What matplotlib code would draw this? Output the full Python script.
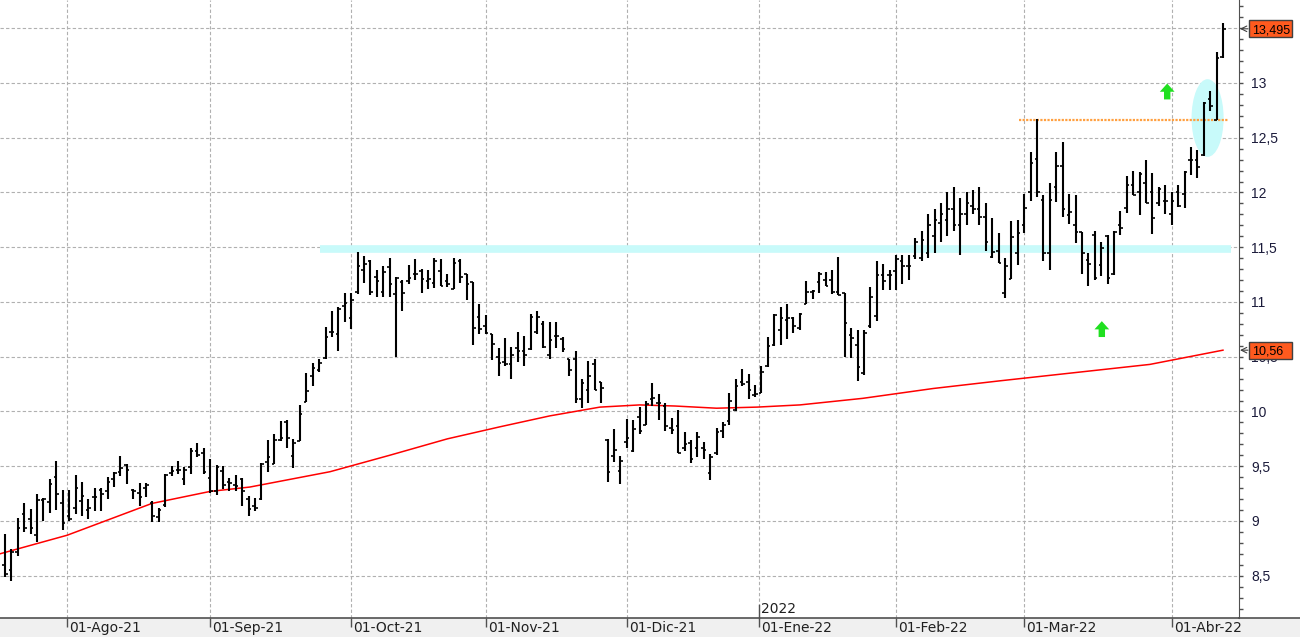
import numpy as np
import pandas as pd
import matplotlib
matplotlib.use('Agg')
import matplotlib.pyplot as plt
from matplotlib import transforms as mtrans
from matplotlib.patches import Ellipse, FancyArrow, Rectangle
from matplotlib.ticker import MultipleLocator, FuncFormatter

plt.rcParams['font.family'] = ['Liberation Sans', 'DejaVu Sans']

# daily bars, 19-Jul-21 .. 13-Abr-22
opens = [8.60, 8.55, 8.72, 9.06, 9.02, 8.87, 9.19, 9.17, 9.40, 9.16,
         9.05, 9.12, 9.18, 9.10, 9.22, 9.28, 9.27, 9.38, 9.45, 9.51,
         9.28, 9.26, 9.30, 9.16, 9.04, 9.15, 9.44, 9.47, 9.38, 9.49,
         9.64, 9.62, 9.39, 9.27, 9.46, 9.36, 9.33, 9.38, 9.20, 9.14,
         9.20, 9.54, 9.52, 9.74, 9.90, 9.59, 9.73, 10.09, 10.32, 10.38,
         10.49, 10.73, 10.71, 10.96, 10.85, 11.09, 11.29, 11.37, 11.23, 11.09,
         11.32, 11.07, 11.18, 11.19, 11.26, 11.28, 11.19, 11.17, 11.28, 11.19,
         11.12, 11.37, 11.26, 11.18, 10.86, 10.78, 10.71, 10.50, 10.45, 10.43,
         10.58, 10.55, 10.57, 10.73, 10.80, 10.52, 10.69, 10.66, 10.48, 10.48,
         10.11, 10.20, 10.43, 10.27, 9.74, 9.59, 9.46, 9.72, 9.64, 9.95,
         9.88, 10.11, 10.08, 10.05, 9.85, 9.87, 9.67, 9.71, 9.67, 9.67,
         9.44, 9.62, 9.82, 9.91, 10.01, 10.27, 10.27, 10.15, 10.17, 10.42,
         10.61, 10.74, 10.84, 10.85, 10.76, 10.98, 11.09, 11.18, 11.20, 11.20,
         11.09, 11.08, 10.70, 10.61, 10.35, 10.78, 10.87, 11.25, 11.25, 11.28,
         11.37, 11.33, 11.42, 11.40, 11.45, 11.60, 11.72, 11.75, 11.85, 11.70,
         11.80, 11.88, 11.85, 11.78, 11.41, 11.47, 11.08, 11.21, 11.45, 11.70,
         12.00, 12.31, 11.93, 11.45, 12.05, 12.24, 11.79, 11.70, 11.64, 11.38,
         11.61, 11.34, 11.60, 11.26, 11.70, 11.86, 12.07, 12.00, 12.09, 12.00,
         11.90, 11.92, 11.80, 12.00, 11.99, 12.30, 12.30, 12.34, 12.85, 12.66,
         13.24]
highs = [8.88, 8.74, 9.03, 9.16, 9.11, 9.25, 9.21, 9.38, 9.55, 9.28,
         9.28, 9.42, 9.36, 9.20, 9.30, 9.30, 9.40, 9.45, 9.59, 9.52,
         9.29, 9.35, 9.35, 9.18, 9.12, 9.43, 9.50, 9.55, 9.49, 9.67,
         9.71, 9.67, 9.57, 9.51, 9.50, 9.39, 9.42, 9.39, 9.23, 9.21,
         9.53, 9.74, 9.79, 9.91, 9.92, 9.75, 10.06, 10.35, 10.44, 10.48,
         10.77, 10.92, 10.95, 11.08, 11.08, 11.46, 11.42, 11.38, 11.29, 11.33,
         11.40, 11.23, 11.20, 11.34, 11.39, 11.30, 11.29, 11.40, 11.39, 11.26,
         11.40, 11.39, 11.26, 11.18, 10.98, 10.88, 10.71, 10.58, 10.67, 10.59,
         10.73, 10.69, 10.89, 10.92, 10.83, 10.82, 10.82, 10.68, 10.48, 10.55,
         10.30, 10.46, 10.48, 10.27, 9.75, 9.84, 9.59, 9.93, 9.92, 10.04,
         10.10, 10.26, 10.16, 10.08, 9.94, 10.01, 9.81, 9.74, 9.81, 9.72,
         9.61, 9.85, 9.90, 10.17, 10.30, 10.39, 10.34, 10.24, 10.42, 10.68,
         10.89, 10.95, 10.98, 10.86, 10.90, 11.19, 11.11, 11.27, 11.27, 11.29,
         11.41, 11.08, 10.76, 10.74, 10.74, 11.14, 11.37, 11.35, 11.29, 11.43,
         11.43, 11.43, 11.58, 11.65, 11.80, 11.85, 11.90, 12.00, 12.05, 11.95,
         12.00, 12.02, 12.05, 11.90, 11.77, 11.63, 11.40, 11.74, 11.75, 11.99,
         12.37, 12.67, 11.98, 12.09, 12.37, 12.46, 11.99, 11.98, 11.64, 11.45,
         11.65, 11.55, 11.61, 11.65, 11.83, 12.15, 12.20, 12.19, 12.30, 12.18,
         12.05, 12.07, 12.00, 12.07, 12.20, 12.42, 12.39, 12.83, 12.93, 13.28,
         13.55]
lows = [8.49, 8.45, 8.68, 8.90, 8.88, 8.81, 9.00, 9.07, 9.10, 8.92,
        9.00, 9.06, 9.05, 9.02, 9.09, 9.09, 9.20, 9.31, 9.41, 9.34,
        9.20, 9.14, 9.22, 8.99, 8.99, 9.13, 9.41, 9.43, 9.33, 9.43,
        9.58, 9.43, 9.26, 9.24, 9.29, 9.27, 9.27, 9.14, 9.05, 9.09,
        9.19, 9.45, 9.52, 9.73, 9.67, 9.48, 9.73, 10.09, 10.23, 10.36,
        10.48, 10.68, 10.55, 10.82, 10.75, 11.07, 11.17, 11.06, 11.05, 11.05,
        11.05, 10.50, 10.92, 11.16, 11.20, 11.08, 11.12, 11.13, 11.15, 11.14,
        11.12, 11.17, 11.02, 10.61, 10.71, 10.71, 10.47, 10.32, 10.42, 10.30,
        10.45, 10.42, 10.56, 10.71, 10.58, 10.48, 10.58, 10.54, 10.32, 10.08,
        10.03, 10.08, 10.20, 10.08, 9.36, 9.54, 9.34, 9.67, 9.63, 9.79,
        9.88, 10.05, 9.92, 9.82, 9.79, 9.62, 9.64, 9.53, 9.58, 9.57,
        9.37, 9.60, 9.76, 9.88, 10.00, 10.23, 10.11, 10.13, 10.17, 10.41,
        10.60, 10.61, 10.66, 10.72, 10.74, 10.98, 11.03, 11.08, 11.15, 11.07,
        11.06, 10.50, 10.49, 10.28, 10.33, 10.76, 10.83, 11.11, 11.11, 11.11,
        11.16, 11.20, 11.39, 11.37, 11.40, 11.45, 11.55, 11.60, 11.65, 11.43,
        11.70, 11.80, 11.70, 11.47, 11.40, 11.36, 11.04, 11.21, 11.34, 11.63,
        11.92, 11.96, 11.37, 11.29, 11.91, 11.78, 11.71, 11.54, 11.26, 11.15,
        11.20, 11.24, 11.16, 11.25, 11.61, 11.81, 11.98, 11.79, 11.90, 11.62,
        11.88, 11.80, 11.70, 11.87, 11.86, 12.16, 12.13, 12.33, 12.74, 12.66,
        13.23]
closes = [8.52, 8.72, 8.94, 8.94, 8.94, 9.19, 9.20, 9.34, 9.25, 8.98,
          9.02, 9.30, 9.23, 9.12, 9.22, 9.25, 9.36, 9.44, 9.48, 9.47,
          9.27, 9.22, 9.33, 9.05, 9.10, 9.42, 9.46, 9.47, 9.47, 9.64,
          9.60, 9.45, 9.27, 9.49, 9.33, 9.35, 9.32, 9.27, 9.11, 9.12,
          9.52, 9.58, 9.74, 9.76, 9.76, 9.71, 9.98, 10.19, 10.40, 10.44,
          10.68, 10.73, 10.94, 10.99, 11.02, 11.33, 11.35, 11.09, 11.19, 11.27,
          11.16, 11.22, 11.08, 11.22, 11.26, 11.21, 11.21, 11.37, 11.15, 11.16,
          11.36, 11.23, 11.16, 10.76, 10.75, 10.72, 10.62, 10.44, 10.43, 10.52,
          10.55, 10.52, 10.86, 10.86, 10.59, 10.65, 10.69, 10.57, 10.38, 10.11,
          10.26, 10.32, 10.20, 10.21, 9.45, 9.65, 9.55, 9.76, 9.84, 9.82,
          10.07, 10.12, 10.08, 9.87, 9.83, 9.62, 9.70, 9.57, 9.77, 9.65,
          9.58, 9.81, 9.88, 10.10, 10.23, 10.25, 10.20, 10.16, 10.36, 10.60,
          10.88, 10.85, 10.85, 10.78, 10.89, 11.09, 11.10, 11.26, 11.15, 11.09,
          11.06, 10.81, 10.67, 10.41, 10.72, 11.05, 11.25, 11.19, 11.25, 11.39,
          11.33, 11.33, 11.55, 11.57, 11.70, 11.75, 11.80, 11.85, 11.70, 11.80,
          11.90, 11.85, 11.78, 11.55, 11.46, 11.36, 11.33, 11.59, 11.63, 11.86,
          12.27, 12.00, 11.45, 11.93, 12.24, 11.85, 11.82, 11.64, 11.45, 11.35,
          11.22, 11.49, 11.22, 11.64, 11.68, 12.07, 11.98, 12.17, 11.90, 11.77,
          12.03, 11.92, 11.92, 11.88, 12.19, 12.30, 12.23, 12.82, 12.79, 13.23,
          13.495]

# 200-session moving average, read at a few bar positions
ma_idx = [-0.8, 9.7, 22.9, 32, 38.2, 50.7, 60, 69, 77.2, 85, 92.8, 99, 104.5,
          111, 117.3, 124, 133.8, 144.8, 155.2, 163, 170.8, 178.6, 190]
ma_val = [8.70, 8.87, 9.16, 9.27, 9.31, 9.45, 9.60, 9.75, 9.86, 9.96, 10.04,
          10.06, 10.05, 10.03, 10.04, 10.06, 10.12, 10.21, 10.28, 10.33, 10.38,
          10.43, 10.56]

month_starts = ['2021-08-01', '2021-09-01', '2021-10-01', '2021-11-01', '2021-12-01',
                '2022-01-01', '2022-02-01', '2022-03-01', '2022-04-01']
month_labels = ['01-Ago-21', '01-Sep-21', '01-Oct-21', '01-Nov-21', '01-Dic-21',
                '01-Ene-22', '01-Feb-22', '01-Mar-22', '01-Abr-22']

support = 11.48
resistance = 12.66
last_price = 13.495
last_ma = 10.56

dates = pd.bdate_range('2021-07-19', '2022-04-13')
dates = dates.drop(pd.to_datetime(['2021-12-24', '2021-12-31']))
idx = np.arange(len(closes))

tick_pos = []
for m in pd.to_datetime(month_starts):
    i = int(np.searchsorted(dates.values, np.datetime64(m)))
    tick_pos.append(i if dates[i] == m else i - 0.35)

fig = plt.figure(figsize=(13, 6.37), dpi=100)
fig.patches.append(Rectangle((0, 0), 1, 19/637, transform=fig.transFigure,
                             fc='#f0f0f0', ec='none', zorder=-1))
ax = fig.add_axes([0, 19/637, 1239/1300, 618/637])

# hand drawn marks
ax.plot([49.1, 191.2], [support, support], color='#c8fafa', lw=5.5,
        solid_capstyle='butt', zorder=1)
ax.add_patch(Ellipse((187.6, 12.68), 5.0, 0.71, fc='#c8fafa', ec='none', zorder=1))
ax.plot([158.2, 190.8], [resistance, resistance], color='#ffa040', lw=1.6,
        linestyle=(0, (1, 0.6)), zorder=2)

ax.plot(ma_idx, ma_val, color='#ff0000', lw=1.1, zorder=2.5)

ax.vlines(idx, lows, highs, color='black', lw=1.5, zorder=3)
ax.hlines(opens, idx - 0.4, idx, color='black', lw=1.2, zorder=3)
ax.hlines(closes, idx, idx + 0.4, color='black', lw=1.2, zorder=3)

for xc, yb in [(181.3, 12.85), (171.1, 10.68)]:
    ax.add_patch(FancyArrow(xc, yb, 0, 0.145, width=1.0, head_width=2.3,
                            head_length=0.075, length_includes_head=True,
                            fc='#20e020', ec='none', zorder=4))

ax.set_xlim(-0.78, 192.5)
ax.set_ylim(8.114, 13.758)

# axes look
for s in ['left', 'top']:
    ax.spines[s].set_visible(False)
ax.spines['right'].set_color('#505050')
ax.spines['bottom'].set_color('#505050')
ax.spines['bottom'].set_linewidth(1.2)
fig.add_artist(plt.Line2D([1239/1300, 1], [19/637, 19/637], color='#505050', lw=1.2))

ax.set_xticks(tick_pos)
ax.set_xticklabels([])
ax.tick_params(axis='x', direction='out', length=6.5, width=1, color='#505050')


def price_fmt(v, p):
    # the top level sits under the last price box
    if v > 13.4:
        return ''
    return ('%g' % v).replace('.', ',')


ax.yaxis.tick_right()
ax.set_yticks(np.arange(8.5, 13.51, 0.5))
ax.yaxis.set_minor_locator(MultipleLocator(0.1))
ax.yaxis.set_major_formatter(FuncFormatter(price_fmt))
ax.tick_params(axis='y', which='both', direction='out', length=3, width=1,
               color='#505050', labelcolor='#1a1a3a', labelsize=10, pad=6)

ax.grid(True, which='major', color='#b0b0b0', linestyle=(0, (3, 2)), lw=0.8)
ax.set_axisbelow(True)

bx = mtrans.blended_transform_factory(ax.transData, ax.transAxes)
lab_tr = mtrans.offset_copy(bx, fig=fig, x=2, y=-3, units='dots')
narrow = ['Liberation Sans Narrow', 'DejaVu Sans']
for p, lab in zip(tick_pos, month_labels):
    ax.text(p, 0, lab, transform=lab_tr, ha='left', va='top', fontsize=10,
            family=narrow, color='#202020', clip_on=False)

jan = tick_pos[5]
ax.plot([jan, jan], [0, 13/618], transform=bx, color='#505050', lw=1, clip_on=False)
ax.text(jan, 0, '2022', transform=mtrans.offset_copy(bx, fig=fig, x=2, y=2, units='dots'),
        ha='left', va='bottom', fontsize=10, family=narrow, color='#202020', clip_on=False)

# last value boxes on the price scale
by = mtrans.blended_transform_factory(fig.transFigure, ax.transData)
for v, txt in [(last_price, '13,495'), (last_ma, '10,56')]:
    fig.add_artist(Rectangle((1249/1300, v - 0.0775), 43/1300, 0.155, transform=by,
                             fc='#ff5a1e', ec='#404040', lw=1, zorder=10))
    fig.text(1252/1300, v, txt, transform=by, ha='left', va='center_baseline',
             fontsize=9, color='black', zorder=11)
    ax.annotate('', xy=(1240/1300, v), xytext=(1248/1300, v), xycoords=by, textcoords=by,
                arrowprops=dict(arrowstyle='->', lw=0.8, color='#404040',
                                shrinkA=0, shrinkB=0), annotation_clip=False)

plt.savefig('out.png', dpi=100)
